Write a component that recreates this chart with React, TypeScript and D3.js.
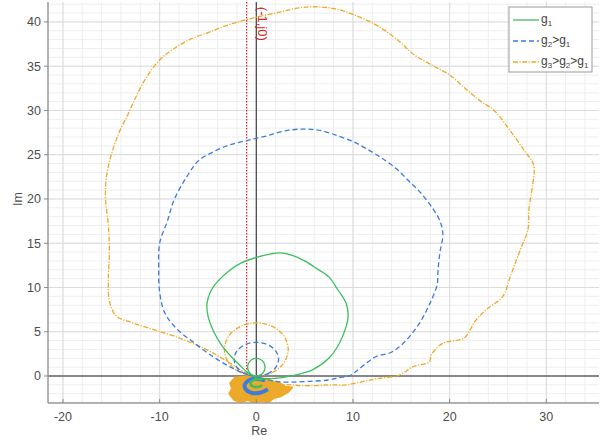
import React from "react";
import * as d3 from "d3";

type P = [number, number];

const xTicks = [-20, -10, 0, 10, 20, 30];
const yTicks = [0, 5, 10, 15, 20, 25, 30, 35, 40];

const g1Loop: P[] = [
  [0, -0.2], [-0.8, 0.3], [-1.6, 1.1], [-2.6, 2.2], [-3.6, 3.5], [-4.4, 5], [-5, 6.8], [-5.1, 8.2],
  [-4.7, 9.6], [-3.9, 10.8], [-2.8, 11.9], [-1.5, 12.8], [0, 13.4], [1.5, 13.8], [2.5, 13.9],
  [3.8, 13.6], [5, 13], [6.3, 12.1], [7.5, 11.2], [8.4, 9.8], [9.3, 8.2], [9.5, 6.8], [9.3, 5.6],
  [8.6, 3.7], [7.5, 2], [5.8, 0.7], [4, 0.1], [2.5, -0.2], [1, -0.3], [0.3, -0.3],
];
const g1Circle: P[] = [
  [0, 0], [0.45, 0.13], [0.78, 0.5], [0.9, 1], [0.78, 1.5], [0.45, 1.87], [0, 2],
  [-0.45, 1.87], [-0.78, 1.5], [-0.9, 1], [-0.78, 0.5], [-0.45, 0.13],
];
const g1Blob: P[] = [
  [0.6, -0.4], [0, -0.35], [-0.5, -0.6], [-0.55, -1], [0, -1.25], [0.6, -1.05],
];

const g2Loop: P[] = [
  [0, -0.1], [-1, 0.2], [-2.5, 0.9], [-4.5, 2.2], [-6.5, 3.8], [-8.3, 5.4], [-9.5, 7.2], [-10, 9.5],
  [-10.1, 12], [-10, 15], [-9.2, 17.5], [-8.5, 19.9], [-7.2, 22.5], [-6, 24.3], [-4.5, 25.3],
  [-2.8, 26.1], [-1, 26.6], [1, 27.1], [3, 27.7], [5, 27.9], [6.8, 27.7], [8.5, 27.1], [10, 26.5],
  [11.5, 25.6], [13, 24.6], [14.5, 23.4], [15.8, 22], [17, 20.7], [18.2, 19], [19, 17.5], [19.3, 16],
  [19, 14], [18.8, 12], [18.7, 10.3], [18, 8.3], [16.9, 6], [15.8, 4.4], [14.8, 3.3], [13.8, 2.6],
  [12.4, 2.2], [11.2, 1.3], [10.3, 0.5], [9.6, 0], [8.5, -0.2], [7.5, -0.45], [5.5, -0.6],
  [3.5, -0.7], [2, -0.6], [0.8, -0.3],
];
const g2Circle: P[] = [
  [0, 0], [1.15, 0.25], [2, 0.95], [2.3, 1.9], [2, 2.85], [1.15, 3.55], [0, 3.8],
  [-1.15, 3.55], [-2, 2.85], [-2.3, 1.9], [-2, 0.95], [-1.15, 0.25],
];
const g2Blob: P[] = [
  [0.9, -0.5], [0, -0.3], [-0.8, -0.5], [-1.2, -1], [-1.1, -1.5], [-0.5, -1.9], [0.4, -1.9], [1.2, -1.5],
];

const g3Loop: P[] = [
  [0, -0.2], [-1, 0.3], [-2.8, 1.5], [-5, 2.9], [-8, 4.3], [-10.5, 5.2], [-12.8, 6], [-14.5, 6.8],
  [-15.2, 8.5], [-15.3, 11], [-15.2, 14], [-15.3, 17], [-15.6, 20], [-15.5, 22.5], [-15, 25],
  [-14.2, 27.5], [-13.3, 29.5], [-12.6, 31.2], [-11.5, 33.5], [-10, 35.7], [-8.5, 37], [-6.9, 38],
  [-5, 38.8], [-2.8, 39.7], [-0.5, 40.4], [2.4, 41.1], [4.5, 41.6], [6.5, 41.7], [8.5, 41.4],
  [10.1, 40.8], [11.8, 40], [13.2, 39.1], [14.8, 37.8], [16.3, 36.3], [18.2, 35.1], [20, 34],
  [21.5, 32.6], [23, 31.2], [24.6, 30], [26.2, 27.8], [27.7, 25.5], [28.7, 23.8], [28.5, 21],
  [28.2, 18.8], [28.1, 16.5], [27.5, 14.8], [26.9, 13.1], [26.2, 11], [25.5, 9], [23.8, 7.5],
  [22.7, 6.3], [21.5, 4.3], [19.3, 3.7], [18.1, 2.4], [17.9, 1.6], [16.2, 1.05], [14.8, 0.1],
  [12.7, -0.26], [11, -0.64], [9.3, -1.0], [7.5, -1.0], [5.5, -1.1], [3.5, -1.0], [2, -0.8], [0.8, -0.4],
];
const g3Circle: P[] = [
  [0, 0], [1.65, 0.4], [2.86, 1.5], [3.3, 3], [2.86, 4.5], [1.65, 5.6], [0, 6],
  [-1.65, 5.6], [-2.86, 4.5], [-3.3, 3], [-2.86, 1.5], [-1.65, 0.4],
];
const g3Blob: P[] = [
  [-2.2, -0.2], [-2.7, -0.8], [-2.5, -1.4], [-2.8, -2.0], [-2.3, -2.7], [-1.6, -3], [-0.9, -2.7],
  [-0.3, -3], [0.5, -2.8], [1.2, -3], [1.8, -2.5], [2.5, -2.3], [3.3, -1.8], [3.7, -1.3],
  [3, -1.2], [2.4, -0.8], [1.6, -0.6], [1, -0.3], [0, -0.2], [-1, -0.05],
];

const W = 600;
const H = 440;
const left = 48, right = 599, top = 2, bottom = 403;

export default function App() {
  const x = d3.scaleLinear().domain([-21.55, 35.45]).range([left, right]);
  const y = d3.scaleLinear().domain([-3.05, 42.25]).range([bottom, top]);

  const line = d3.line<P>().x((d) => x(d[0])).y((d) => y(d[1])).curve(d3.curveCatmullRom);
  const closed = d3.line<P>().x((d) => x(d[0])).y((d) => y(d[1])).curve(d3.curveCatmullRomClosed);
  const linClosed = d3.line<P>().x((d) => x(d[0])).y((d) => y(d[1])).curve(d3.curveLinearClosed);

  const green = "#3dbf5e";
  const blue = "#3d7be0";
  const orange = "#edaa2a";
  const tickColor = "#4d4d4d";
  const font = "'Liberation Sans', Arial, sans-serif";
  const orangeDash = "5,1.5,1.2,1.5";

  const xMinor = d3.range(-20, 36, 2);
  const yMinor = d3.range(-3, 43, 1);

  return (
    <svg width={W} height={H} style={{ position: "absolute", left: 0, top: 0, background: "#fff" }}>
      <defs>
        <clipPath id="plot">
          <rect x={left} y={top} width={right - left} height={bottom - top} />
        </clipPath>
      </defs>
      <g stroke="#eeeeee" strokeWidth={1}>
        {xMinor.map((v) => (
          <line key={"xm" + v} x1={x(v)} x2={x(v)} y1={top} y2={bottom} />
        ))}
        {yMinor.map((v) => (
          <line key={"ym" + v} x1={left} x2={right} y1={y(v)} y2={y(v)} />
        ))}
      </g>
      <g stroke="#dcdcdc" strokeWidth={1}>
        {xTicks.map((v) => (
          <line key={"xg" + v} x1={x(v)} x2={x(v)} y1={top} y2={bottom} />
        ))}
        {yTicks.map((v) => (
          <line key={"yg" + v} x1={left} x2={right} y1={y(v)} y2={y(v)} />
        ))}
      </g>

      <g clipPath="url(#plot)">
        <line x1={left} x2={right} y1={y(0)} y2={y(0)} stroke="#666" strokeWidth={1.5} />
        <line x1={x(0)} x2={x(0)} y1={top} y2={bottom} stroke="#444" strokeWidth={1.2} />
        <line x1={x(-1)} x2={x(-1)} y1={top} y2={y(-0.5)} stroke="#e0303a" strokeWidth={1.3} strokeDasharray="1.5,1.5" />

        <path d={linClosed(g3Blob) || ""} fill={orange} stroke={orange} strokeWidth={2} strokeLinejoin="round" />
        <path d={line(g3Loop) || ""} fill="none" stroke={orange} strokeWidth={1.3} strokeDasharray={orangeDash} />
        <path d={closed(g3Circle) || ""} fill="none" stroke={orange} strokeWidth={1.3} strokeDasharray={orangeDash} />
        <path d={line(g2Blob) || ""} fill="none" stroke={blue} strokeWidth={4} />
        <path d={line(g2Loop) || ""} fill="none" stroke={blue} strokeWidth={1.3} strokeDasharray="5,3" />
        <path d={closed(g2Circle) || ""} fill="none" stroke={blue} strokeWidth={1.3} strokeDasharray="5,3" />
        <path d={line(g1Blob) || ""} fill="none" stroke={green} strokeWidth={2.5} />
        <path d={line(g1Loop) || ""} fill="none" stroke={green} strokeWidth={1.3} />
        <path d={closed(g1Circle) || ""} fill="none" stroke={green} strokeWidth={1.3} />
      </g>

      <text
        transform={`translate(${x(0) + 2},${y(41.7)}) rotate(90)`}
        fill="#d62a2a"
        fontSize={13}
        fontFamily={font}
      >
        (-1,j0)
      </text>

      <line x1={left} x2={left} y1={top} y2={bottom} stroke="#9a9a9a" strokeWidth={1.5} />
      <line x1={left} x2={right} y1={bottom} y2={bottom} stroke="#9a9a9a" strokeWidth={1.5} />
      {yTicks.map((v) => (
        <g key={"yt" + v}>
          <line x1={left - 4} x2={left} y1={y(v)} y2={y(v)} stroke="#888" />
          <text x={left - 7} y={y(v)} dy="0.35em" textAnchor="end" fill={tickColor} fontSize={12.5} fontFamily={font}>
            {v}
          </text>
        </g>
      ))}
      {xTicks.map((v) => (
        <g key={"xt" + v}>
          <line x1={x(v)} x2={x(v)} y1={bottom} y2={bottom - 4} stroke="#888" />
          <text x={x(v)} y={bottom + 18} textAnchor="middle" fill={tickColor} fontSize={12.5} fontFamily={font}>
            {v}
          </text>
        </g>
      ))}
      <text x={x(0) + 3} y={435} textAnchor="middle" fill={tickColor} fontSize={12.5} fontFamily={font}>
        Re
      </text>
      <text
        transform={`translate(22,${y(20)}) rotate(-90)`}
        textAnchor="middle"
        fill={tickColor}
        fontSize={12.5}
        fontFamily={font}
      >
        Im
      </text>

      <g fontFamily={font} fontSize={12} fill="#444">
        <rect x={509} y={7} width={83} height={65} fill="#fff" stroke="#999" strokeWidth={1} />
        <line x1={513} x2={539} y1={20} y2={20} stroke={green} strokeWidth={1.3} />
        <line x1={513} x2={539} y1={41} y2={41} stroke={blue} strokeWidth={1.3} strokeDasharray="5,3" />
        <line x1={513} x2={539} y1={62} y2={62} stroke={orange} strokeWidth={1.3} strokeDasharray={orangeDash} />
        <text x={541} y={23}>
          g<tspan fontSize={8} dy={3}>1</tspan>
        </text>
        <text x={541} y={44}>
          g<tspan fontSize={8} dy={3}>2</tspan>
          <tspan dy={-3}>&gt;g</tspan>
          <tspan fontSize={8} dy={3}>1</tspan>
        </text>
        <text x={541} y={65}>
          g<tspan fontSize={8} dy={3}>3</tspan>
          <tspan dy={-3}>&gt;g</tspan>
          <tspan fontSize={8} dy={3}>2</tspan>
          <tspan dy={-3}>&gt;g</tspan>
          <tspan fontSize={8} dy={3}>1</tspan>
        </text>
      </g>
    </svg>
  );
}
